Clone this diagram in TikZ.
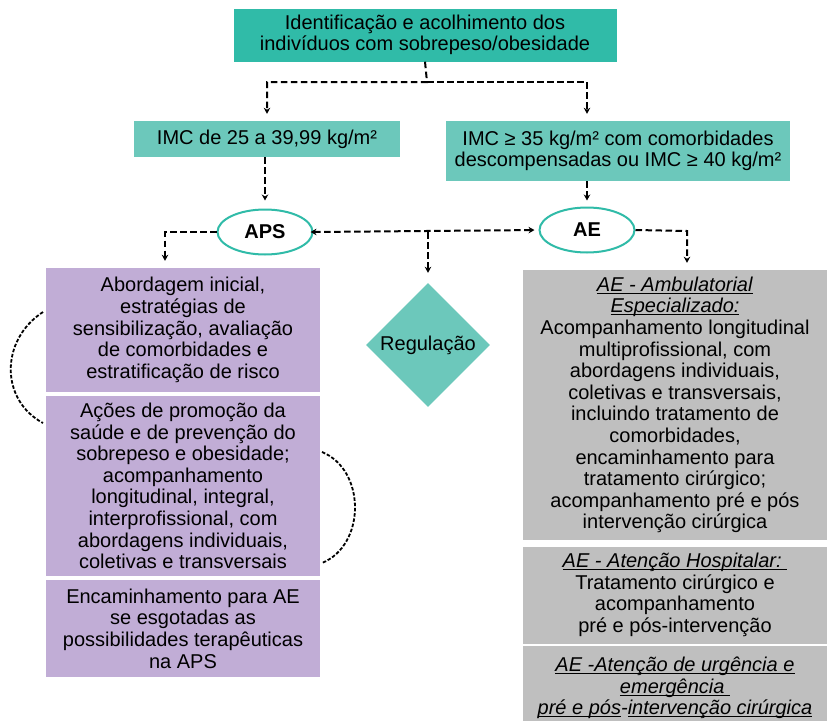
\documentclass[tikz,border=0pt]{standalone}
\usepackage{fontspec}
\setmainfont{Liberation Sans}
\usetikzlibrary{
  arrows.meta, % Pfeilspitzen
  shapes.geometric, % ellipse, diamond
  calc
}

\definecolor{tealtop}{HTML}{30BBA8}
\definecolor{teallight}{HTML}{6CC8BB}
\definecolor{lilac}{HTML}{C1ADD6}
\definecolor{greybox}{HTML}{BFBFBF}

% kursiv und unterstrichen, Linie knapp unter der Grundlinie
\newsavebox{\ulbox}
\newcommand{\ulit}[1]{\sbox{\ulbox}{\textit{#1}}\rlap{\rule[-2.4pt]{\wd\ulbox}{1pt}}\usebox{\ulbox}}

\begin{document}
\begin{tikzpicture}[
      x=1pt, y=-1pt, % Pixelkoordinaten, y nach unten
      >={Stealth[length=6pt, width=6.5pt]}, % Standard-Pfeilspitze
      flow/.style={->, line width=2pt, dash pattern=on 6.5pt off 3.5pt}, % gestrichelte Verbindungen
      loopline/.style={line width=1.8pt, dash pattern=on 3.5pt off 1.8pt}, % Bögen links/rechts
      box/.style={align=center, inner sep=0pt, font=\fontsize{20}{21.6}\selectfont},
      tealbox/.style={box, fill=teallight},
      lilacbox/.style={box, fill=lilac, minimum width=274pt},
      greyblock/.style={box, fill=greybox, minimum width=304pt},
      level/.style={ellipse, draw=tealtop, line width=2pt, fill=white,
        minimum width=95pt, minimum height=45pt, inner sep=0pt,
        font=\fontsize{20}{22}\selectfont\bfseries},
    ]

    \clip (0,0) rectangle (827,720);

    % Kopf
    \node[box, fill=tealtop, minimum width=383pt, minimum height=53pt] (ident) at (425,35)
      {Identificação e acolhimento dos\\indivíduos com sobrepeso/obesidade};

    % IMC-Kästen
    \node[tealbox, minimum width=266pt, minimum height=36pt] (imcA) at (267,139)
      {IMC de 25 a 39,99 kg/m²};
    \node[tealbox, minimum width=344pt, minimum height=60pt] (imcB) at (618,151)
      {IMC ≥ 35 kg/m² com comorbidades\\descompensadas ou IMC ≥ 40 kg/m²};

    % Ebenen
    \node[level] (aps) at (265,232) {APS};
    \node[level] (ae) at (587,230) {AE};

    % Regulação
    \node[diamond, aspect=1, fill=teallight, inner sep=0pt, minimum width=124pt,
      minimum height=124pt, font=\fontsize{20}{22}\selectfont] (reg) at (428,345) {Regulação};

    % APS-Spalte
    \node[lilacbox, minimum height=124pt] (p1) at (183,330)
      {Abordagem inicial,\\estratégias de\\sensibilização, avaliação\\de comorbidades e\\estratificação de risco};
    \node[lilacbox, minimum height=180pt] (p2) at (183,486)
      {Ações de promoção da\\saúde e de prevenção do\\sobrepeso e obesidade;\\acompanhamento\\longitudinal, integral,\\interprofissional, com\\abordagens individuais,\\coletivas e transversais};
    \node[lilacbox, minimum height=97pt] (p3) at (183,628.5)
      {Encaminhamento para AE\\se esgotadas as\\possibilidades terapêuticas\\na APS};

    % AE-Spalte
    \node[greyblock, minimum height=270pt] (g1) at (675,405)
      {\ulit{AE - Ambulatorial}\\\ulit{Especializado:}\\Acompanhamento longitudinal\\multiprofissional, com\\abordagens individuais,\\coletivas e transversais,\\incluindo tratamento de\\comorbidades,\\encaminhamento para\\tratamento cirúrgico;\\acompanhamento pré e pós\\intervenção cirúrgica};
    \node[greyblock, minimum height=97pt] (g2) at (675,595)
      {\ulit{AE - Atenção Hospitalar:~}\\Tratamento cirúrgico e\\acompanhamento\\pré e pós-intervenção};
    \node[greyblock, minimum height=84pt] (g3) at (675,688)
      {\ulit{AE -Atenção de urgência e}\\\ulit{emergência~}\\\ulit{pré e pós}\textit{-}\ulit{intervenção cirúrgica}};

    % Hilfspunkte
    \coordinate (branch) at (427,82);
    \coordinate (mid) at (428,232);
    \coordinate (apsTurn) at (165,232);
    \coordinate (aeTurn) at (687,231);

    % Verzweigung oben
    \draw[flow, shorten >=7pt] (ident.south) -- (branch) -| (imcA.north);
    \draw[flow, shorten >=7pt] (branch) -| (imcB.north -| ae.north);

    % IMC -> Ebene
    \draw[flow, shorten >=8pt] (imcA.south -| aps.north) -- (aps.north);
    \draw[flow, shorten >=6pt] (imcB.south -| ae.north) -- (ae.north);

    % Ebene -> Kästen
    \draw[flow, shorten >=7pt] (aps.west) -- (apsTurn) -- (apsTurn |- p1.north);
    \draw[flow, shorten >=7pt] (ae.east) -- (aeTurn) -- (aeTurn |- g1.north);

    % APS <-> AE und Regulação
    \draw[flow, <->, shorten <=-3pt, shorten >=4pt] (aps.east) -- (ae.west);
    \draw[flow, shorten >=10pt] (mid) -- (reg.north);

    % Bögen
    \draw[loopline] (43,312) .. controls (0,340) and (0,400) .. (43,423);
    \draw[loopline] (322,452) .. controls (366,470) and (366,545) .. (322,563);
  \end{tikzpicture}
\end{document}
